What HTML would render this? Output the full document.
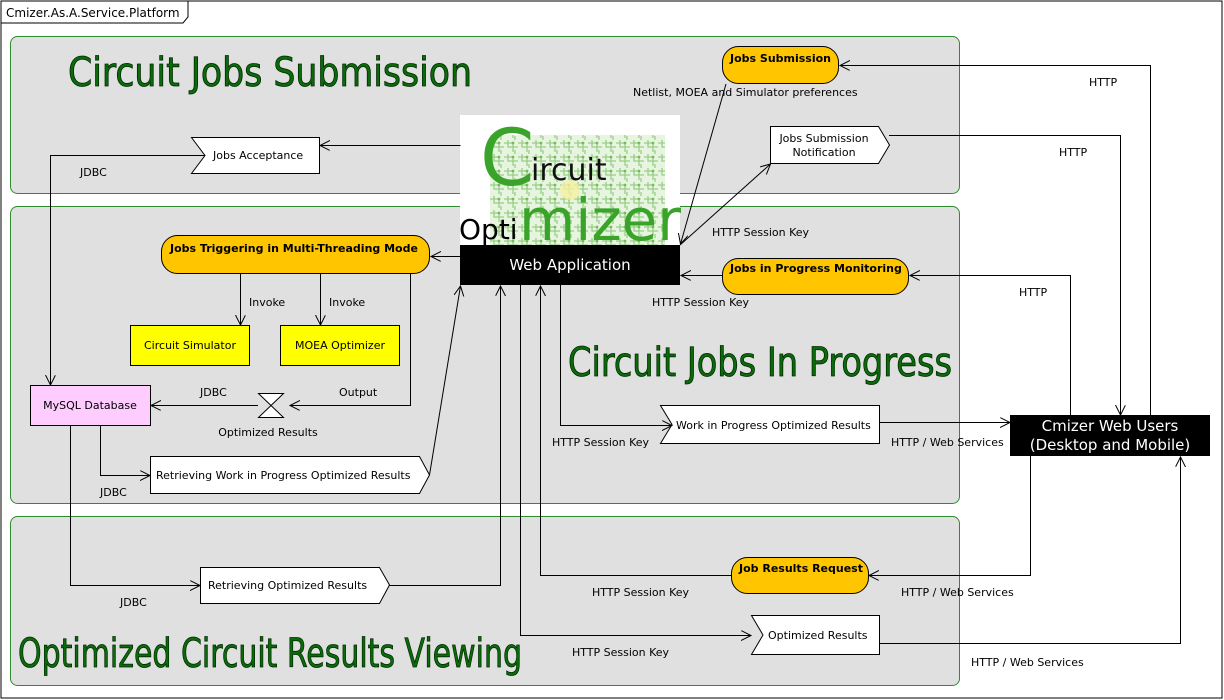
<!DOCTYPE html>
<html><head><meta charset="utf-8"><style>
html,body{margin:0;padding:0;background:#fff;}
svg{display:block;}
text{font-family:"DejaVu Sans","Liberation Sans",sans-serif;}
.l{font-size:11px;fill:#000;}
.t{font-family:"DejaVu Sans Condensed","DejaVu Sans",sans-serif;font-stretch:condensed;font-size:40px;fill:#0b6b0b;stroke:#002800;stroke-width:0.8;}
.b{font-size:11px;font-weight:bold;fill:#000;}
.ln{fill:none;stroke:#000;stroke-width:1;}
</style></head><body>
<svg width="1224" height="700" viewBox="0 0 1224 700" xmlns="http://www.w3.org/2000/svg">
<defs>
<marker id="a" markerWidth="12" markerHeight="12" refX="10" refY="5" orient="auto" markerUnits="userSpaceOnUse">
<path d="M0,0 L10,5 L0,10" fill="none" stroke="#000" stroke-width="1"/></marker>
<pattern id="pcb" width="14" height="14" patternUnits="userSpaceOnUse">
<rect width="14" height="14" fill="#e4f4dc"/>
<path d="M0,3 H9 V12 M4,0 V7 H14 M11,10 V14" stroke="#8cc878" stroke-width="1.3" fill="none"/>
<circle cx="9" cy="3" r="1.4" fill="#6ab24f"/>
</pattern>
</defs>
<rect x="1" y="1" width="1221" height="697" fill="#fff" stroke="#000"/>
<path d="M1,23 H183 L188,17 V1" fill="none" stroke="#000"/>
<text x="6" y="17" style="font-size:12px">Cmizer.As.A.Service.Platform</text>

<rect x="10.5" y="36.5" width="949" height="157" rx="7" fill="#e0e0e0" stroke="#2e8b2e"/>
<rect x="10.5" y="206.5" width="949" height="297" rx="7" fill="#e0e0e0" stroke="#2e8b2e"/>
<rect x="10.5" y="516.5" width="949" height="169" rx="7" fill="#e0e0e0" stroke="#2e8b2e"/>

<text class="t" x="68" y="86" textLength="404" lengthAdjust="spacingAndGlyphs">Circuit Jobs Submission</text>
<text class="t" x="568" y="376" textLength="384" lengthAdjust="spacingAndGlyphs">Circuit Jobs In Progress</text>
<text class="t" x="18" y="667" textLength="504" lengthAdjust="spacingAndGlyphs">Optimized Circuit Results Viewing</text>

<!-- logo -->
<rect x="460" y="115" width="220" height="131" fill="#fff"/>
<rect x="490" y="135" width="175" height="110" fill="url(#pcb)" opacity="0.9"/>
<circle cx="570" cy="190" r="10" fill="#f5f0a0" opacity="0.8"/>
<text x="480" y="185" style="font-size:78px;fill:#3aa32a">C</text>
<text x="531" y="180" style="font-size:30px;fill:#111">ircuit</text>
<text x="459" y="239" style="font-size:28px;fill:#000">Opti</text>
<text x="519" y="240" style="font-size:58px;fill:#3aa32a" textLength="162" lengthAdjust="spacingAndGlyphs">mizer</text>
<rect x="460" y="245" width="220" height="40" fill="#000"/>
<text x="570" y="270" text-anchor="middle" style="font-size:15px;fill:#fff">Web Application</text>

<!-- nodes -->
<rect x="722.5" y="46.5" width="116" height="37" rx="16" fill="#ffc600" stroke="#000"/>
<text class="b" x="730" y="62">Jobs Submission</text>
<path d="M191.5,137.5 H319.5 V173.5 H191.5 L205,155.5 Z" fill="#fff" stroke="#000"/>
<text class="l" x="213" y="159">Jobs Acceptance</text>
<path d="M770.5,126.5 H878.5 L889.5,145 L878.5,163.5 H770.5 Z" fill="#fff" stroke="#000"/>
<text class="l" x="824" y="142" text-anchor="middle">Jobs Submission</text>
<text class="l" x="824" y="156" text-anchor="middle">Notification</text>
<rect x="161.5" y="235.5" width="268" height="38" rx="16" fill="#ffc600" stroke="#000"/>
<text class="b" x="170" y="252">Jobs Triggering in Multi-Threading Mode</text>
<rect x="722.5" y="258.5" width="186" height="36" rx="16" fill="#ffc600" stroke="#000"/>
<text class="b" x="730" y="272">Jobs in Progress Monitoring</text>
<rect x="130.5" y="325.5" width="119" height="40" fill="#ffff00" stroke="#000"/>
<text class="l" x="190" y="349" text-anchor="middle">Circuit Simulator</text>
<rect x="280.5" y="325.5" width="119" height="40" fill="#ffff00" stroke="#000"/>
<text class="l" x="340" y="349" text-anchor="middle">MOEA Optimizer</text>
<rect x="30.5" y="385.5" width="120" height="40" fill="#ffccff" stroke="#000"/>
<text class="l" x="90" y="409" text-anchor="middle">MySQL Database</text>
<path d="M258.5,393.5 H283.5 L258.5,417.5 H283.5 Z" fill="#fff" stroke="#000"/>
<text class="l" x="268" y="436" text-anchor="middle">Optimized Results</text>
<path d="M150.5,456.5 H419.5 L429.5,475 L419.5,493.5 H150.5 Z" fill="#fff" stroke="#000"/>
<text class="l" x="156" y="479">Retrieving Work in Progress Optimized Results</text>
<path d="M660.5,405.5 H879.5 V443.5 H660.5 L672,424.5 Z" fill="#fff" stroke="#000"/>
<text class="l" x="676" y="429">Work in Progress Optimized Results</text>
<rect x="1010" y="415" width="200" height="41" fill="#000"/>
<text x="1110" y="431" text-anchor="middle" style="font-size:15px;fill:#fff">Cmizer Web Users</text>
<text x="1110" y="450" text-anchor="middle" style="font-size:15px;fill:#fff">(Desktop and Mobile)</text>
<rect x="731.5" y="557.5" width="137" height="36" rx="16" fill="#ffc600" stroke="#000"/>
<text class="b" x="739" y="572">Job Results Request</text>
<path d="M200.5,567.5 H379.5 L389.5,585 L379.5,603.5 H200.5 Z" fill="#fff" stroke="#000"/>
<text class="l" x="208" y="589">Retrieving Optimized Results</text>
<path d="M751.5,615.5 H879.5 V654.5 H751.5 L763,635 Z" fill="#fff" stroke="#000"/>
<text class="l" x="768" y="639">Optimized Results</text>

<!-- connectors -->
<path class="ln" d="M460.5,145.5 H320" marker-end="url(#a)"/>
<path class="ln" d="M205,155.5 H50.5 V385" marker-end="url(#a)"/>
<text class="l" x="80" y="176">JDBC</text>
<path class="ln" d="M460,256.5 H431" marker-end="url(#a)"/>
<path class="ln" d="M240.5,274 V325" marker-end="url(#a)"/>
<text class="l" x="249" y="306">Invoke</text>
<path class="ln" d="M320.5,274 V325" marker-end="url(#a)"/>
<text class="l" x="329" y="306">Invoke</text>
<path class="ln" d="M410.5,274 V405.5 H290" marker-end="url(#a)"/>
<text class="l" x="339" y="396">Output</text>
<path class="ln" d="M258,405.5 H151" marker-end="url(#a)"/>
<text class="l" x="200" y="396">JDBC</text>
<path class="ln" d="M100.5,426 V475.5 H150" marker-end="url(#a)"/>
<text class="l" x="100" y="496">JDBC</text>
<path class="ln" d="M70.5,426 V585.5 H200" marker-end="url(#a)"/>
<text class="l" x="120" y="606">JDBC</text>
<path class="ln" d="M429.5,475 L460.5,286" marker-end="url(#a)"/>
<path class="ln" d="M389.5,585.5 H500.5 V286" marker-end="url(#a)"/>
<path class="ln" d="M731,575.5 H540.5 V286" marker-end="url(#a)"/>
<text class="l" x="592" y="596">HTTP Session Key</text>
<path class="ln" d="M520.5,285 V635.5 H751" marker-end="url(#a)"/>
<text class="l" x="572" y="656">HTTP Session Key</text>
<path class="ln" d="M560.5,285 V425.5 H672" marker-end="url(#a)"/>
<text class="l" x="552" y="446">HTTP Session Key</text>
<path class="ln" d="M880,422.5 H1010" marker-end="url(#a)"/>
<text class="l" x="891" y="446">HTTP / Web Services</text>
<path class="ln" d="M722,275.5 H681" marker-end="url(#a)"/>
<text class="l" x="652" y="306">HTTP Session Key</text>
<path class="ln" d="M680,245 L770.5,164" marker-end="url(#a)"/>
<text class="l" x="712" y="236">HTTP Session Key</text>
<path class="ln" d="M726,84 L680.5,244" marker-end="url(#a)"/>
<text class="l" x="633" y="96">Netlist, MOEA and Simulator preferences</text>
<path class="ln" d="M1150.5,415 V65.5 H840" marker-end="url(#a)"/>
<text class="l" x="1089" y="86">HTTP</text>
<path class="ln" d="M889,135.5 H1120.5 V415" marker-end="url(#a)"/>
<text class="l" x="1059" y="156">HTTP</text>
<path class="ln" d="M1070.5,415 V275.5 H910" marker-end="url(#a)"/>
<text class="l" x="1019" y="296">HTTP</text>
<path class="ln" d="M1030.5,456 V575.5 H869" marker-end="url(#a)"/>
<text class="l" x="901" y="596">HTTP / Web Services</text>
<path class="ln" d="M879.5,643.5 H1180.5 V457" marker-end="url(#a)"/>
<text class="l" x="971" y="666">HTTP / Web Services</text>
</svg>
</body></html>
